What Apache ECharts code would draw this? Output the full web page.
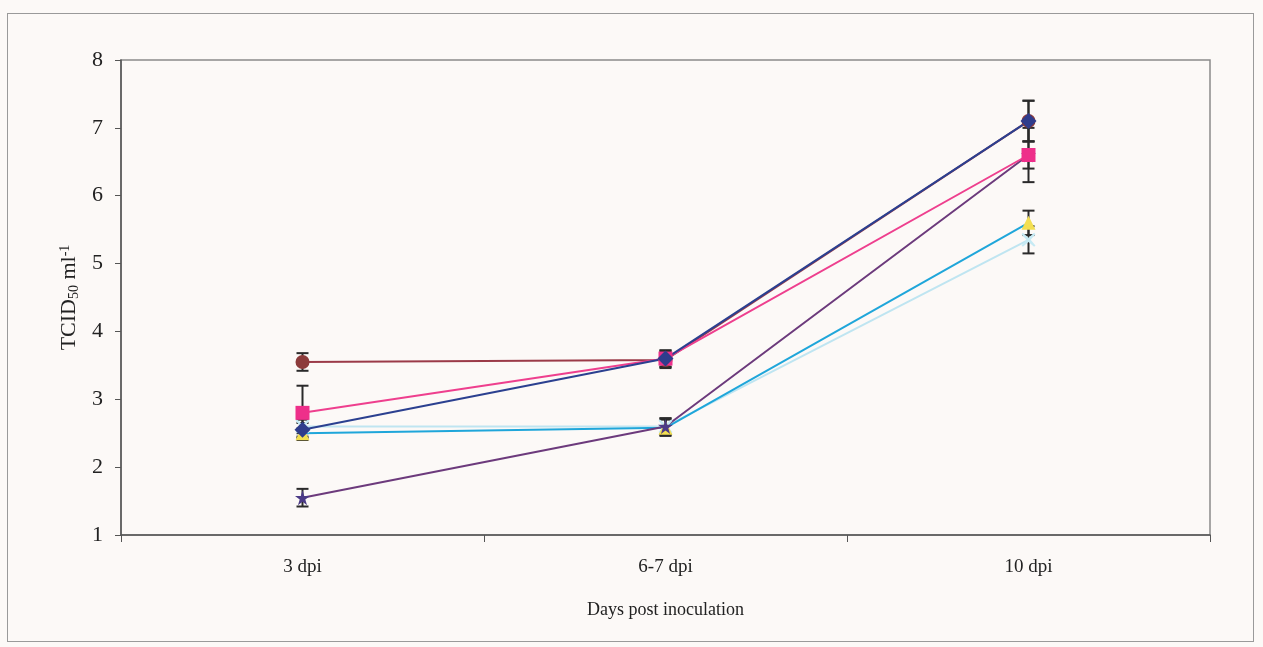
<!DOCTYPE html>
<html>
<head>
<meta charset="utf-8">
<script src="https://cdn.jsdelivr.net/npm/echarts@6/dist/echarts.min.js"></script>
<style>
html,body{margin:0;padding:0;background:#fcf9f7;}
#frame{position:absolute;left:7px;top:13px;width:1247px;height:629px;border:1.5px solid #9a9a9a;box-sizing:border-box;}
#chart{position:absolute;left:0;top:0;width:1263px;height:647px;}
</style>
</head>
<body>
<div id="frame"></div>
<div id="chart"></div>
<script>
const categories = ['3 dpi', '6-7 dpi', '10 dpi'];
const yTicks = [1, 2, 3, 4, 5, 6, 7, 8];

// series values (log TCID50/ml)
const s1Blue   = [2.55, 3.60, 7.10];
const s2Pink   = [2.80, 3.60, 6.60];
const s3Yellow = [2.50, 2.58, 5.60];
const s4Light  = [2.60, 2.60, 5.35];
const s5Purple = [1.55, 2.60, 6.60];
const s6Brown  = [3.55, 3.58, 7.10];

// standard errors
const e1Blue   = [0.10, 0.12, 0.30];
const e2Pink   = [0.40, 0.12, 0.40];
const e3Yellow = [0.07, 0.12, 0.18];
const e4Light  = [0.10, 0.12, 0.20];
const e5Purple = [0.13, 0.12, 0.20];
const e6Brown  = [0.13, 0.12, 0.30];

const starPath = 'path://M50,0 L61,35 L98,35 L68,57 L79,91 L50,70 L21,91 L32,57 L2,35 L39,35 Z';
const xPath = 'path://M10,0 L50,35 L90,0 L100,10 L65,50 L100,90 L90,100 L50,65 L10,100 L0,90 L35,50 L0,10 Z';

const defs = [
  {name: 'Series 6', data: s6Brown,  err: e6Brown,  line: '#9b3a48', mark: '#8c3b3b', symbol: 'circle',  size: 14},
  {name: 'Series 4', data: s4Light,  err: e4Light,  line: '#bfe5f1', mark: '#c6eaf4', symbol: xPath,     size: 14},
  {name: 'Series 3', data: s3Yellow, err: e3Yellow, line: '#1fa6da', mark: '#f3df52', symbol: 'triangle',size: 14},
  {name: 'Series 5', data: s5Purple, err: e5Purple, line: '#6c3a7c', mark: '#4b3a86', symbol: starPath,  size: 15},
  {name: 'Series 2', data: s2Pink,   err: e2Pink,   line: '#ee3f8e', mark: '#ee2f8a', symbol: 'rect',    size: 14},
  {name: 'Series 1', data: s1Blue,   err: e1Blue,   line: '#2b4090', mark: '#2f3c8c', symbol: 'diamond', size: 16}
];

const series = [];
defs.forEach(function (d) {
  series.push({
    type: 'custom',
    name: d.name + ' err',
    silent: true,
    z: 3,
    data: d.data.map(function (v, i) { return [i, v - d.err[i], v + d.err[i]]; }),
    renderItem: function (params, api) {
      const lo = api.coord([api.value(0), api.value(1)]);
      const hi = api.coord([api.value(0), api.value(2)]);
      const w = 6;
      const st = {stroke: '#2a2a2a', lineWidth: 2};
      return {type: 'group', children: [
        {type: 'line', shape: {x1: lo[0], y1: lo[1], x2: hi[0], y2: hi[1]}, style: st},
        {type: 'line', shape: {x1: lo[0] - w, y1: lo[1], x2: lo[0] + w, y2: lo[1]}, style: st},
        {type: 'line', shape: {x1: hi[0] - w, y1: hi[1], x2: hi[0] + w, y2: hi[1]}, style: st}
      ]};
    }
  });
});
defs.forEach(function (d) {
  series.push({
    type: 'line',
    name: d.name,
    data: d.data,
    z: 4,
    symbol: d.symbol,
    symbolSize: d.size,
    showAllSymbol: true,
    lineStyle: {color: d.line, width: 2},
    itemStyle: {color: d.mark, borderWidth: 0},
    emphasis: {disabled: true}
  });
});

const chart = echarts.init(document.getElementById('chart'));
chart.setOption({
  backgroundColor: 'transparent',
  animation: false,
  grid: {left: 121, right: 53, top: 60, bottom: 112, show: true, borderColor: '#8a8a8a', borderWidth: 1.5, backgroundColor: 'transparent'},
  xAxis: {
    type: 'category',
    data: categories,
    boundaryGap: true,
    name: 'Days post inoculation',
    nameLocation: 'middle',
    nameGap: 66,
    nameTextStyle: {fontFamily: 'Liberation Serif', fontSize: 18, color: '#222'},
    axisLine: {lineStyle: {color: '#555', width: 1.5}},
    axisTick: {show: true, length: 7, lineStyle: {color: '#555'}},
    axisLabel: {fontFamily: 'Liberation Serif', fontSize: 19, color: '#222', margin: 23}
  },
  yAxis: {
    type: 'value',
    min: yTicks[0],
    max: yTicks[yTicks.length - 1],
    interval: 1,
    name: 'TCID{sub|50} ml{sup|-1}',
    nameLocation: 'middle',
    nameRotate: 90,
    nameGap: 40,
    nameTextStyle: {
      fontFamily: 'Liberation Serif', fontSize: 22, color: '#222',
      rich: {
        sub: {fontFamily: 'Liberation Serif', fontSize: 14, color: '#222', verticalAlign: 'bottom', padding: [9, 0, 0, 0]},
        sup: {fontFamily: 'Liberation Serif', fontSize: 14, color: '#222', verticalAlign: 'top', padding: [0, 0, 9, 0]}
      }
    },
    splitLine: {show: false},
    axisLine: {show: true, lineStyle: {color: '#555', width: 1.5}},
    axisTick: {show: true, length: 6, lineStyle: {color: '#555'}},
    axisLabel: {fontFamily: 'Liberation Serif', fontSize: 22, color: '#222', margin: 18}
  },
  series: series
});
</script>
</body>
</html>
